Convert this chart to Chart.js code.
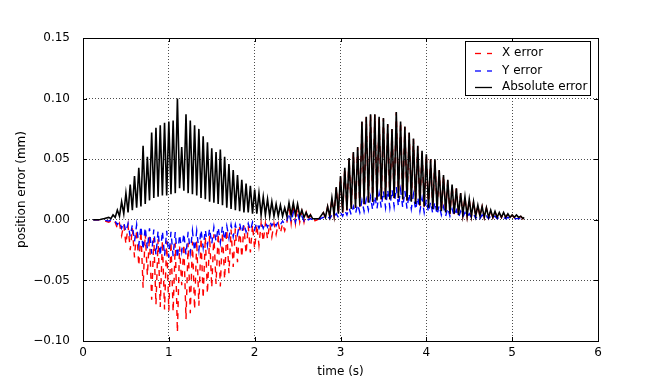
<!DOCTYPE html>
<html>
<head>
<meta charset="utf-8">
<script src="https://cdn.jsdelivr.net/npm/chart.js@4/dist/chart.umd.min.js"></script>
<style>
  html, body { margin: 0; padding: 0; background: #fff; }
  #wrap { width: 664px; height: 380px; }
</style>
</head>
<body>
<div id="wrap"><canvas id="c" width="664" height="380"></canvas></div>
<script>
// ---- data ----
const seriesLabels = ['X error', 'Y error', 'Absolute error'];
const xTickLabels = [0, 1, 2, 3, 4, 5, 6];
const yTickLabels = [-0.10, -0.05, 0.00, 0.05, 0.10, 0.15];

// first motion: oscillation cycle times (s)
const cycleTime1 = [0.30,0.35,0.40,0.45,0.50,0.55,0.60,0.65,0.70,0.75,0.80,0.85,0.90,0.95,1.00,1.05,1.10,1.15,1.20,1.25,1.30,1.35,1.40,1.45,1.50,1.55,1.60,1.65,1.70,1.75,1.80,1.85,1.90,1.95,2.00,2.05,2.10,2.15,2.20,2.25,2.30,2.35,2.40,2.45,2.50,2.55,2.60,2.65];
const absPeak1 = [0.002,0.004,0.008,0.015,0.022,0.029,0.036,0.043,0.061,0.052,0.072,0.076,0.078,0.080,0.081,0.082,0.100,0.060,0.087,0.082,0.078,0.075,0.069,0.064,0.059,0.056,0.058,0.052,0.046,0.041,0.037,0.033,0.030,0.028,0.025,0.022,0.019,0.017,0.015,0.013,0.012,0.010,0.014,0.014,0.013,0.008,0.006,0.004];
const absTrough1 = [0.001,0.002,0.003,0.005,0.006,0.008,0.010,0.011,0.013,0.016,0.018,0.019,0.020,0.020,0.021,0.022,0.026,0.024,0.022,0.021,0.020,0.018,0.017,0.015,0.014,0.013,0.012,0.010,0.009,0.008,0.007,0.006,0.006,0.005,0.005,0.004,0.004,0.003,0.003,0.003,0.003,0.003,0.004,0.004,0.003,0.002,0.002,0.001];
const xPeak1 = [-0.002,-0.0035,-0.007,-0.013,-0.020,-0.025,-0.031,-0.038,-0.056,-0.046,-0.066,-0.070,-0.072,-0.074,-0.075,-0.076,-0.093,-0.054,-0.082,-0.077,-0.074,-0.071,-0.065,-0.061,-0.056,-0.053,-0.055,-0.049,-0.044,-0.039,-0.035,-0.031,-0.028,-0.027,-0.024,-0.021,-0.018,-0.016,-0.014,-0.012,-0.011,-0.009,0.013,0.013,0.012,0.007,0.006,0.004];
const xTrough1 = [-0.001,-0.002,-0.003,-0.004,-0.005,-0.007,-0.008,-0.009,-0.011,-0.013,-0.015,-0.016,-0.017,-0.017,-0.018,-0.019,-0.022,-0.020,-0.019,-0.018,-0.017,-0.015,-0.014,-0.013,-0.012,-0.011,-0.010,-0.008,-0.008,-0.007,-0.006,-0.005,-0.005,-0.004,-0.004,-0.003,-0.003,-0.003,-0.003,-0.003,-0.003,-0.003,-0.003,-0.003,-0.002,-0.002,-0.001,-0.001];
const yPeak1 = [-0.001,-0.002,-0.004,-0.007,-0.010,-0.014,-0.018,-0.021,-0.025,-0.024,-0.028,-0.029,-0.030,-0.030,-0.031,-0.030,-0.032,-0.026,-0.029,-0.027,-0.026,-0.025,-0.023,-0.021,-0.020,-0.018,-0.019,-0.017,-0.015,-0.014,-0.012,-0.011,-0.010,-0.009,-0.008,-0.007,-0.007,-0.006,-0.005,-0.005,-0.004,-0.004,0.006,0.006,0.005,0.003,0.002,0.001];
const yTrough1 = [0.000,-0.001,-0.001,-0.002,-0.003,-0.004,-0.004,-0.005,-0.006,-0.007,-0.008,-0.009,-0.009,-0.009,-0.010,-0.010,-0.012,-0.011,-0.010,-0.009,-0.009,-0.008,-0.008,-0.007,-0.006,-0.006,-0.005,-0.005,-0.004,-0.004,-0.003,-0.003,-0.003,-0.002,-0.002,-0.002,-0.002,-0.001,-0.001,-0.001,-0.001,-0.001,-0.002,-0.002,-0.001,-0.001,0.000,0.000];

// second motion
const cycleTime2 = [2.80,2.85,2.90,2.95,3.00,3.05,3.10,3.15,3.20,3.25,3.30,3.35,3.40,3.45,3.50,3.55,3.60,3.65,3.70,3.75,3.80,3.85,3.90,3.95,4.00,4.05,4.10,4.15,4.20,4.25,4.30,4.35,4.40,4.45,4.50,4.55,4.60,4.65,4.70,4.75,4.80,4.85,4.90,4.95,5.00,5.05,5.10];
const absPeak2 = [0.006,0.011,0.018,0.027,0.036,0.043,0.051,0.056,0.060,0.081,0.085,0.087,0.087,0.085,0.084,0.079,0.075,0.089,0.081,0.077,0.072,0.067,0.061,0.057,0.054,0.050,0.050,0.041,0.037,0.033,0.029,0.026,0.022,0.019,0.017,0.015,0.012,0.011,0.010,0.008,0.007,0.006,0.006,0.005,0.004,0.004,0.003];
const absTrough2 = [0.002,0.003,0.004,0.005,0.006,0.008,0.009,0.010,0.011,0.013,0.014,0.015,0.016,0.017,0.017,0.017,0.018,0.018,0.017,0.016,0.015,0.013,0.012,0.011,0.010,0.009,0.008,0.007,0.006,0.005,0.005,0.004,0.004,0.003,0.003,0.003,0.003,0.002,0.002,0.002,0.002,0.002,0.002,0.002,0.002,0.002,0.001];
const xPeak2 = [0.0058,0.0108,0.0178,0.0268,0.0357,0.0427,0.0507,0.0557,0.0597,0.0806,0.0846,0.0866,0.0866,0.0846,0.0836,0.0786,0.0746,0.0886,0.0806,0.0766,0.0716,0.0666,0.0606,0.0566,0.0536,0.0497,0.0497,0.0407,0.0367,0.0327,0.0287,0.0257,0.0218,0.0188,0.0168,0.0148,0.0118,0.0108,0.0098,0.0078,0.0068,0.0058,0.0058,0.0048,0.0038,0.0038,0.0028];
const xTrough2 = [0.0018,0.0028,0.0037,0.0047,0.0057,0.0077,0.0087,0.0097,0.0107,0.0127,0.0137,0.0147,0.0157,0.0167,0.0167,0.0167,0.0177,0.0177,0.0167,0.0157,0.0147,0.0127,0.0117,0.0107,0.0097,0.0087,0.0077,0.0067,0.0057,0.0047,0.0047,0.0037,0.0037,0.0027,0.0027,0.0027,0.0027,0.0018,0.0018,0.0018,0.0018,0.0018,0.0018,0.0018,0.0018,0.0018,0.0008];
const yPeak2 = [0.002,0.003,0.004,0.005,0.006,0.008,0.010,0.011,0.013,0.016,0.017,0.019,0.020,0.022,0.024,0.025,0.025,0.027,0.025,0.024,0.022,0.021,0.019,0.018,0.017,0.015,0.015,0.012,0.011,0.010,0.009,0.008,0.007,0.006,0.005,0.005,0.004,0.004,0.003,0.003,0.003,0.002,0.002,0.002,0.002,0.001,0.001];
const yTrough2 = [0.001,0.001,0.002,0.002,0.003,0.004,0.004,0.005,0.006,0.007,0.008,0.008,0.009,0.010,0.010,0.010,0.011,0.011,0.010,0.009,0.009,0.008,0.007,0.006,0.006,0.005,0.004,0.004,0.003,0.003,0.003,0.002,0.002,0.002,0.002,0.001,0.001,0.001,0.001,0.001,0.001,0.001,0.001,0.001,0.001,0.001,0.001];

// quiet stretches (start, pause between motions, end)
const quietTime = [0.12, 0.20, 0.25, 2.71, 2.75, 5.14];
const quietAbs  = [0.000, 0.0003, 0.001, 0.0008, 0.001, 0.002];
const quietX    = [0.000, -0.0002, -0.0008, -0.0006, 0.0008, 0.0017];
const quietY    = [0.000, -0.0001, -0.0004, 0.0004, 0.0005, 0.001];

// ---- build point tables from the arrays ----
function zigzag(times, peaks, troughs) {
  const pts = [];
  for (let i = 0; i < times.length; i++) {
    const next = i + 1 < times.length ? times[i + 1] : times[i] + (times[i] - times[i - 1]);
    pts.push({ x: times[i], y: peaks[i] });
    pts.push({ x: (times[i] + next) / 2, y: troughs[i] });
  }
  return pts;
}
function series(quiet, p1, t1, p2, t2) {
  const pts = quietTime.map((t, i) => ({ x: t, y: quiet[i] }))
    .concat(zigzag(cycleTime1, p1, t1))
    .concat(zigzag(cycleTime2, p2, t2));
  pts.sort((a, b) => a.x - b.x);
  return pts;
}
const xData = series(quietX, xPeak1, xTrough1, xPeak2, xTrough2);
const yData = series(quietY, yPeak1, yTrough1, yPeak2, yTrough2);
const absData = series(quietAbs, absPeak1, absTrough1, absPeak2, absTrough2);

const FONT = 'DejaVu Sans';

const framePlugin = {
  id: 'frame',
  afterDraw(chart) {
    const { ctx, chartArea: a, scales } = chart;
    ctx.save();
    ctx.strokeStyle = '#000';
    ctx.lineWidth = 1;
    ctx.beginPath();
    scales.x.ticks.forEach(t => {
      const px = Math.round(scales.x.getPixelForValue(t.value)) + 0.5;
      ctx.moveTo(px, a.bottom); ctx.lineTo(px, a.bottom - 4);
      ctx.moveTo(px, a.top); ctx.lineTo(px, a.top + 4);
    });
    scales.y.ticks.forEach(t => {
      const py = Math.round(scales.y.getPixelForValue(t.value)) + 0.5;
      ctx.moveTo(a.left, py); ctx.lineTo(a.left + 4, py);
      ctx.moveTo(a.right, py); ctx.lineTo(a.right - 4, py);
    });
    ctx.stroke();
    ctx.strokeRect(Math.round(a.left) + 0.5, Math.round(a.top) + 0.5,
                   Math.round(a.right - a.left), Math.round(a.bottom - a.top));
    // legend box (upper right, inside the axes)
    const bx = 465.5, by = 41.5, bw = 125, bh = 54;
    ctx.fillStyle = '#fff';
    ctx.fillRect(bx, by, bw, bh);
    ctx.strokeStyle = '#000';
    ctx.strokeRect(bx, by, bw, bh);
    const rows = [53, 70.5, 87];
    chart.data.datasets.forEach((ds, i) => {
      const y = rows[i] + 0.5;
      ctx.strokeStyle = ds.borderColor;
      ctx.lineWidth = 1.3;
      ctx.setLineDash(ds.borderDash || []);
      ctx.beginPath();
      ctx.moveTo(475, y); ctx.lineTo(492, y);
      ctx.stroke();
      ctx.setLineDash([]);
      ctx.fillStyle = '#000';
      ctx.font = '12px "' + FONT + '"';
      ctx.textBaseline = 'middle';
      ctx.textAlign = 'left';
      ctx.fillText(ds.label, 502, rows[i]);
    });
    ctx.restore();
  }
};

new Chart(document.getElementById('c'), {
  type: 'line',
  data: {
    datasets: [
      { label: seriesLabels[0], data: xData, borderColor: '#ff0000', borderWidth: 1.4, borderDash: [6, 6], order: 3 },
      { label: seriesLabels[1], data: yData, borderColor: '#0000ff', borderWidth: 1.4, borderDash: [6, 6], order: 2 },
      { label: seriesLabels[2], data: absData, borderColor: '#000000', borderWidth: 1.6, order: 1 }
    ]
  },
  options: {
    responsive: false,
    animation: false,
    events: [],
    elements: { point: { radius: 0 }, line: { tension: 0, borderCapStyle: 'butt' } },
    layout: { padding: { left: 0, top: 38, right: 66, bottom: 0 } },
    plugins: { legend: { display: false }, tooltip: { enabled: false } },
    scales: {
      x: {
        type: 'linear',
        min: xTickLabels[0], max: xTickLabels[xTickLabels.length - 1],
        afterBuildTicks: s => { s.ticks = xTickLabels.map(v => ({ value: v })); },
        afterFit: s => { s.height = 39; },
        border: { display: false, dash: [1, 2] },
        grid: { color: 'rgba(0,0,0,0.7)', lineWidth: 1, drawTicks: false },
        ticks: { color: '#000', font: { family: FONT, size: 12 }, padding: 5, maxRotation: 0,
                 callback: v => String(v) },
        title: { display: true, text: 'time (s)', color: '#000', font: { family: FONT, size: 12 },
                 padding: { top: 0, bottom: 1 } }
      },
      y: {
        type: 'linear',
        min: yTickLabels[0], max: yTickLabels[yTickLabels.length - 1],
        afterBuildTicks: s => { s.ticks = yTickLabels.map(v => ({ value: v })); },
        afterFit: s => { s.width = 83; },
        border: { display: false, dash: [1, 2] },
        grid: { color: 'rgba(0,0,0,0.7)', lineWidth: 1, drawTicks: false },
        ticks: { color: '#000', font: { family: FONT, size: 12 }, padding: 13,
                 callback: v => { const n = Math.abs(v) < 1e-9 ? 0 : v; const s = Math.abs(n).toFixed(2); return n < 0 ? '\u2212' + s : s; } },
        title: { display: true, text: 'position error (mm)', color: '#000', font: { family: FONT, size: 12 },
                 padding: { top: 15, bottom: 0 } }
      }
    }
  },
  plugins: [framePlugin]
});
</script>
</body>
</html>
